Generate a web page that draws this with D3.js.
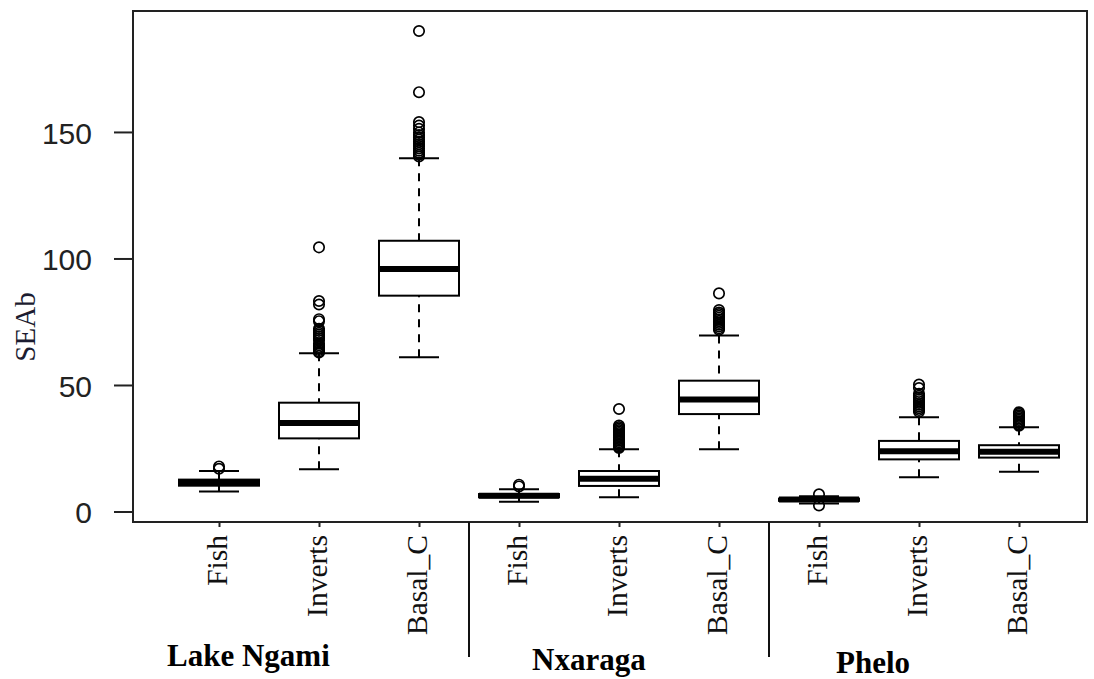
<!DOCTYPE html>
<html>
<head>
<meta charset="utf-8">
<script src="https://cdn.jsdelivr.net/npm/d3@7"></script>
<style>
  body { margin: 0; background: #fff; }
  svg { display: block; }
</style>
</head>
<body>
<svg id="chart" width="1094" height="679"></svg>
<script>
// Sites and functional groups (boxes are ordered site by site)
const sites = ["Lake Ngami", "Nxaraga", "Phelo"];
const groups = ["Fish", "Inverts", "Basal_C"];

// Box statistics of SEAb, one entry per site x group
const lowerWhisker = [7.9, 16.7, 61.0, 3.9, 5.6, 24.6, 3.2, 13.5, 15.7];
const lowerQuartile = [10.2, 28.9, 85.3, 5.6, 10.1, 38.5, 4.2, 20.6, 21.3];
const medianValue = [11.3, 35.0, 95.8, 6.2, 12.9, 44.3, 4.7, 23.8, 23.6];
const upperQuartile = [12.6, 43.0, 107.0, 6.9, 16.0, 51.7, 5.1, 27.9, 26.2];
const upperWhisker = [16.0, 62.5, 139.6, 8.8, 24.6, 69.6, 6.0, 37.2, 33.3];

// Points beyond the whiskers
const outliersLN = [
  [17.8, 16.9],
  [104.4, 83.2, 81.8, 76.0, 75.2, 72.2, 71.4, 70.6, 69.9, 69.2, 68.5, 67.8, 66.4, 65.7, 65.0, 64.4, 63.8, 63.2, 62.8],
  [189.9, 165.7, 153.9, 152.5, 151.2, 149.8, 148.8, 147.9, 147.0, 146.1, 145.2, 144.4, 143.5, 142.6, 141.8, 141.0, 140.3]
];
const outliersNX = [
  [10.6, 9.9],
  [40.5, 34.0, 33.4, 32.8, 32.2, 31.6, 31.0, 30.4, 29.8, 29.2, 28.6, 28.0, 27.4, 26.8, 26.2, 25.6, 25.1],
  [86.2, 79.6, 78.6, 78.0, 77.3, 76.6, 75.9, 75.2, 74.5, 73.8, 73.1, 72.4, 71.8]
];
const outliersPH = [
  [6.8, 2.4],
  [50.2, 48.8, 46.5, 45.7, 45.0, 44.3, 43.6, 42.9, 42.2, 41.5, 40.8, 40.1, 39.4],
  [39.2, 38.6, 38.0, 37.4, 36.8, 36.2, 35.6, 35.0, 34.4, 33.9]
];
const outliers = [...outliersLN, ...outliersNX, ...outliersPH];

const yTicks = [0, 50, 100, 150];
const yLabel = "SEAb";

// Plot region
const plot = { left: 133, right: 1087, top: 11, bottom: 522 };

const boxes = lowerWhisker.map((lw, i) => ({
  pos: i + 1,
  site: sites[Math.floor(i / 3)],
  group: groups[i % 3],
  lw: lw,
  q1: lowerQuartile[i],
  med: medianValue[i],
  q3: upperQuartile[i],
  uw: upperWhisker[i],
  out: outliers[i]
}));

const x = d3.scaleLinear().domain([0.14, 9.68]).range([plot.left, plot.right]);
const y = d3.scaleLinear().domain([-4.15, 197.8]).range([plot.bottom, plot.top]);

const svg = d3.select("#chart");
const ink = "#000";
const boxHalf = 0.4;      // half box width in x units
const capHalf = 0.2;      // half whisker-cap width

const g = svg.append("g");

// Whiskers (dashed), drawn from the whisker end to the box
g.selectAll("line.whisker-lo").data(boxes).join("line")
  .attr("x1", d => x(d.pos)).attr("x2", d => x(d.pos))
  .attr("y1", d => y(d.lw)).attr("y2", d => y(d.q1))
  .attr("stroke", ink).attr("stroke-width", 2).attr("stroke-dasharray", "8,7");
g.selectAll("line.whisker-hi").data(boxes).join("line")
  .attr("x1", d => x(d.pos)).attr("x2", d => x(d.pos))
  .attr("y1", d => y(d.uw)).attr("y2", d => y(d.q3))
  .attr("stroke", ink).attr("stroke-width", 2).attr("stroke-dasharray", "8,7");

// Whisker caps
["lw", "uw"].forEach(k => {
  g.selectAll("line.cap-" + k).data(boxes).join("line")
    .attr("x1", d => x(d.pos - capHalf)).attr("x2", d => x(d.pos + capHalf))
    .attr("y1", d => y(d[k])).attr("y2", d => y(d[k]))
    .attr("stroke", ink).attr("stroke-width", 2);
});

// Boxes
g.selectAll("rect.box").data(boxes).join("rect")
  .attr("x", d => x(d.pos - boxHalf))
  .attr("width", d => x(d.pos + boxHalf) - x(d.pos - boxHalf))
  .attr("y", d => y(d.q3))
  .attr("height", d => y(d.q1) - y(d.q3))
  .attr("fill", "#fff").attr("stroke", ink).attr("stroke-width", 2);

// Medians
g.selectAll("line.median").data(boxes).join("line")
  .attr("x1", d => x(d.pos - boxHalf)).attr("x2", d => x(d.pos + boxHalf))
  .attr("y1", d => y(d.med)).attr("y2", d => y(d.med))
  .attr("stroke", ink).attr("stroke-width", 6);

// Outliers as open circles
const outPts = boxes.flatMap(d => d.out.map(v => ({ pos: d.pos, v })));
g.selectAll("circle.out").data(outPts).join("circle")
  .attr("cx", d => x(d.pos)).attr("cy", d => y(d.v)).attr("r", 5.2)
  .attr("fill", "none").attr("stroke", ink).attr("stroke-width", 1.7);

// Frame around the plot region
svg.append("rect")
  .attr("x", plot.left).attr("y", plot.top)
  .attr("width", plot.right - plot.left).attr("height", plot.bottom - plot.top)
  .attr("fill", "none").attr("stroke", "#222").attr("stroke-width", 2);

// Y axis
const yAxis = svg.append("g")
  .attr("transform", `translate(${plot.left},0)`)
  .call(d3.axisLeft(y).tickValues(yTicks).tickSize(19).tickSizeOuter(0).tickPadding(22).tickFormat(d3.format("d")));
yAxis.select(".domain").remove();
yAxis.selectAll(".tick line").attr("stroke", "#222").attr("stroke-width", 2);
yAxis.selectAll(".tick text")
  .attr("dy", "0.37em")
  .attr("fill", "#222")
  .style("font-family", "'Liberation Sans', Arial, sans-serif")
  .style("font-size", "30px");

// Y axis title
svg.append("text")
  .attr("transform", "translate(35,327) rotate(-90)")
  .attr("text-anchor", "middle")
  .attr("fill", "#1c1c30")
  .style("font-family", "'Liberation Serif', 'Times New Roman', serif")
  .style("font-size", "29px")
  .text(yLabel);

// X axis: small ticks and rotated group labels
const xAxis = svg.append("g")
  .attr("transform", `translate(0,${plot.bottom})`)
  .call(d3.axisBottom(x).tickValues(boxes.map(d => d.pos)).tickSize(5).tickSizeOuter(0).tickFormat(""));
xAxis.select(".domain").remove();
xAxis.selectAll(".tick line").attr("stroke", "#222").attr("stroke-width", 2);

svg.append("g").selectAll("text").data(boxes).join("text")
  .attr("transform", d => `translate(${x(d.pos) + 8},535) rotate(-90)`)
  .attr("text-anchor", "end")
  .attr("fill", "#111")
  .style("font-family", "'Liberation Serif', 'Times New Roman', serif")
  .style("font-size", "29.5px")
  .text(d => d.group);

// Separators between sites
svg.append("g").selectAll("line").data([3.5, 6.5]).join("line")
  .attr("x1", d => x(d)).attr("x2", d => x(d))
  .attr("y1", plot.bottom).attr("y2", 657)
  .attr("stroke", "#111").attr("stroke-width", 2);

// Site names
const siteLabelX = [167, 532, 836];
const siteLabelY = [666, 670, 673];
svg.append("g").selectAll("text").data(sites).join("text")
  .attr("x", (d, i) => siteLabelX[i])
  .attr("y", (d, i) => siteLabelY[i])
  .attr("fill", "#000")
  .style("font-family", "'Liberation Serif', 'Times New Roman', serif")
  .style("font-weight", "bold")
  .style("font-size", "31px")
  .text(d => d);
</script>
</body>
</html>
